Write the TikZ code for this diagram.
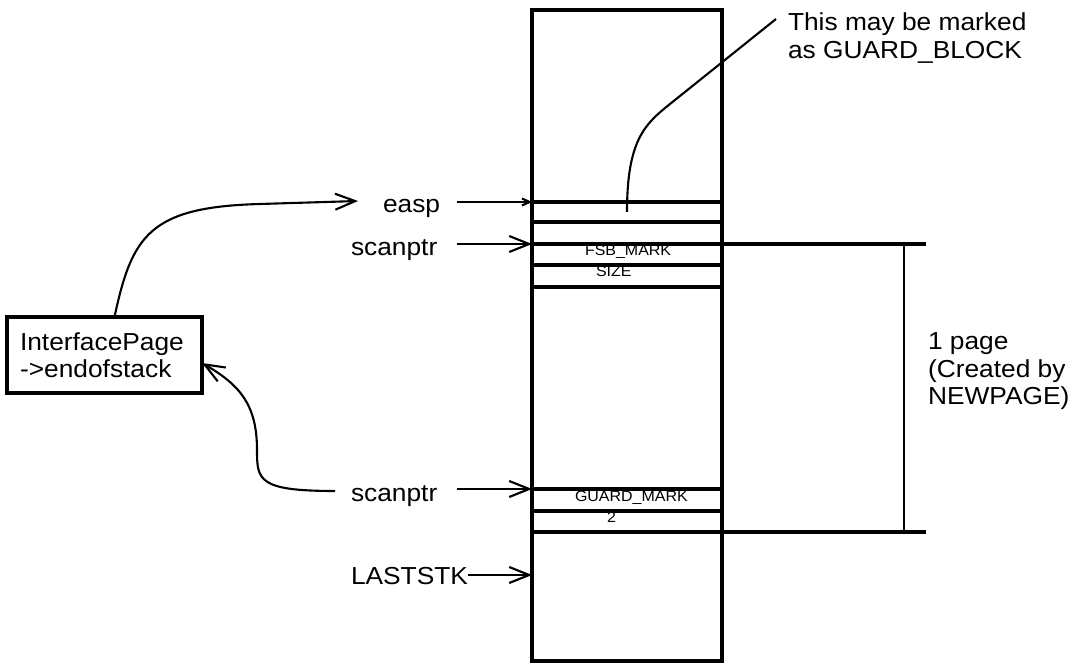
\documentclass[tikz,border=0pt]{standalone}
\usepackage{fontspec}
\setmainfont{Liberation Sans}[FakeStretch=1.07]
\usetikzlibrary{arrows.meta}

\begin{document}
\begin{tikzpicture}[x=0.02cm, y=-0.02cm, line width=1.2pt,
  every node/.style={font=\fontsize{14pt}{15.5pt}\selectfont, inner sep=0pt, outer sep=0pt},
  tag/.style={font=\fontsize{8.5pt}{10pt}\selectfont},
  thickline/.style={line width=1.9pt},
  >={Straight Barb[length=0.4cm, width=0.32cm]}]
	\useasboundingbox (0,0) rectangle (1075,671);
	% the stack and its blocks
	\node[draw, thickline, minimum width=3.8cm, minimum height=13.02cm] (stack) at (627,335.5) {};
	\foreach \y in {202,222,244,265,287,489,511,532}
		\draw[thickline] (stack.west |- 0,\y) -- (stack.east |- 0,\y);
	\draw[thickline] (stack.east |- 0,244) -- (926,244);
	\draw[thickline] (stack.east |- 0,532) -- (926,532);
	\draw (904,244) -- (904,532);
	\node[tag, anchor=base west] (fsb) at (585,256) {FSB\_MARK};
	\node[tag, anchor=base west] (size) at (596,277) {SIZE};
	\node[tag, anchor=base west] (guard) at (575,502) {GUARD\_MARK};
	\node[tag, anchor=base west] (two) at (607,523) {2};
	\node[anchor=north west, align=left] (pagenote) at (928,333) {1 page\\(Created by\\NEWPAGE)};
	% pointers into the stack
	\node[anchor=base west] (easp) at (383,213) {easp};
	\node[anchor=base west] (scan1) at (351,256) {scanptr};
	\node[anchor=base west] (scan2) at (351,502) {scanptr};
	\node[anchor=base west] (laststk) at (351,585) {LASTSTK};
	\coordinate (easpT) at (457,202);
	\coordinate (scan1T) at (457,244);
	\coordinate (scan2T) at (457,489);
	\coordinate (lastT) at (468,575);
	\draw[->, >={Straight Barb[length=0.15cm, width=0.14cm]}] (easpT) -- (easpT -| stack.west);
	\draw[->] (scan1T) -- (scan1T -| stack.west);
	\draw[->] (scan2T) -- (scan2T -| stack.west);
	\draw[->] (lastT) -- (lastT -| stack.west);
	% guard block note
	\node[anchor=north west, align=left] (note) at (788,13) {This may be marked\\as GUARD\_BLOCK};
	\coordinate (guardT) at (627,212);
	\draw (guardT) .. controls (627,140) and (645,124) .. (670,104) -- ([shift={(-12,6)}]note.north west);
	% interface page
	\node[draw, thickline, minimum width=3.9cm, minimum height=1.52cm, text width=3.38cm, inner sep=0.26cm, align=left] (ipage) at (104.5,355) {InterfacePage\\->endofstack};
	\coordinate (easpIn) at (358,201);
	\coordinate (scan2L) at (335,491);
	\draw[->] ([xshift=0.2cm]ipage.north) .. controls (132,235) and (150,207) .. (260,204) -- (easpIn);
	\draw[->] (scan2L) .. controls (258,491) and (257,480) .. (257,450) .. controls (257,405) and (240,385) .. ([yshift=-0.16cm]ipage.east);
\end{tikzpicture}
\end{document}
